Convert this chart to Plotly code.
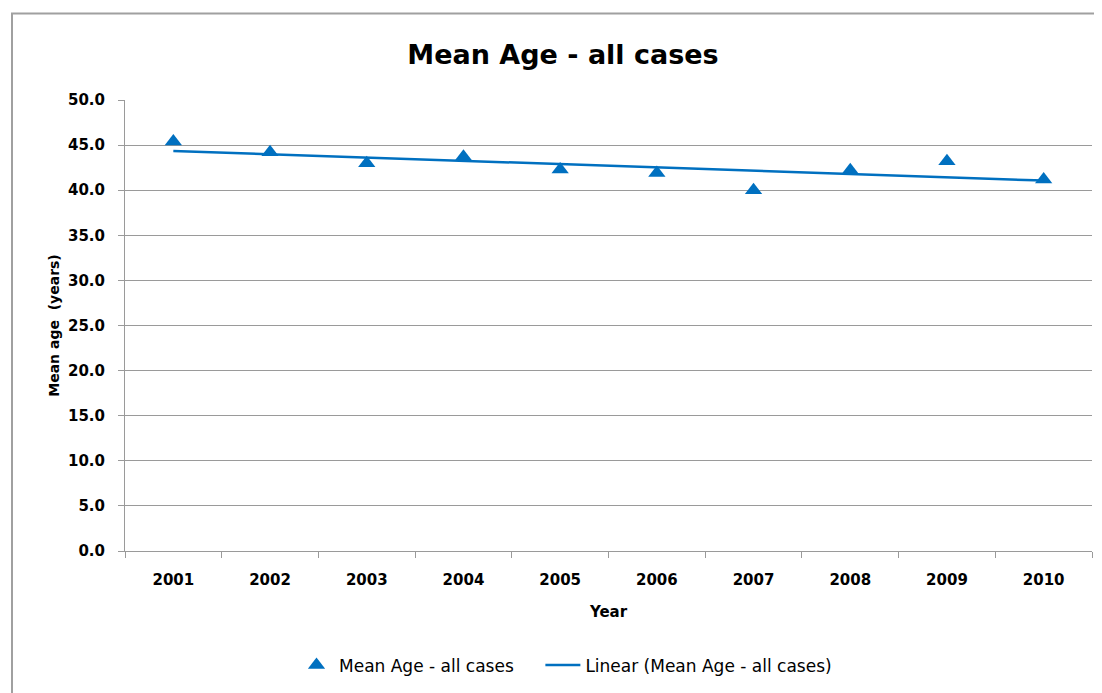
import numpy as np
import plotly.graph_objects as go

years = ["2001", "2002", "2003", "2004", "2005", "2006", "2007", "2008", "2009", "2010"]
mean_age = [45.4, 44.2, 43.0, 43.7, 42.3, 41.9, 40.0, 42.2, 43.2, 41.2]
y_ticks = [0, 5, 10, 15, 20, 25, 30, 35, 40, 45, 50]
y_tick_labels = ["%.1f" % v for v in y_ticks]

idx = np.arange(1, len(years) + 1)
slope, intercept = np.polyfit(idx, mean_age, 1)
trend = list(intercept + slope * idx)

BLUE = "#0070C0"
GRID = "#9a9a9a"
FONT = "DejaVu Sans"
PAD = "\u00a0" * 4

fig = go.Figure()
fig.add_trace(go.Scatter(
    x=years, y=mean_age, mode="markers", name="Mean Age - all cases" + PAD,
    marker=dict(symbol="triangle-up", size=15, color=BLUE),
))
fig.add_trace(go.Scatter(
    x=years, y=trend, mode="lines", name="Linear (Mean Age - all cases)",
    line=dict(color=BLUE, width=2.5),
))

OFF = 8  # page body margin
W, H = 1102 - OFF, 693 - OFF
L, T = 125 - OFF, 100 - OFF
pw, ph = 967, 453
R = W - L - pw
B = H - T - ph

def px_x(p):
    return (p - OFF - L) / pw

def px_y(p):
    return (T + ph - (p - OFF)) / ph

fig.add_shape(type="rect", xref="paper", yref="paper",
              x0=px_x(12), x1=px_x(1102 + 10), y0=px_y(693 + 10), y1=px_y(13),
              line=dict(color="#a0a0a0", width=2), fillcolor="rgba(0,0,0,0)", layer="below")

fig.update_layout(
    width=W, height=H,
    margin=dict(l=L, r=R, t=T, b=B),
    paper_bgcolor="white", plot_bgcolor="white",
    font=dict(family=FONT, color="black"),
    title=dict(text="<b>Mean Age - all cases</b>", x=(563 - OFF) / W, xanchor="center",
               y=1 - (55 - OFF) / H, yanchor="middle", font=dict(size=27, family=FONT, color="black")),
    xaxis=dict(
        type="category", range=[-0.5, 9.5],
        showgrid=False, showline=True, linecolor=GRID, linewidth=1,
        ticks="outside", ticklen=6, tickcolor=GRID, tickson="boundaries",
        tickfont=dict(size=15, family=FONT, color="black"),
        title=dict(text="<b>Year</b>", font=dict(size=15, family=FONT), standoff=18),
        ticklabelstandoff=15,
    ),
    yaxis=dict(
        range=[0, 50], tickvals=y_ticks, ticktext=["<b>%s</b>" % t for t in y_tick_labels],
        showgrid=True, gridcolor=GRID, gridwidth=1,
        showline=True, linecolor=GRID, linewidth=1,
        ticks="outside", ticklen=6, tickcolor=GRID,
        tickfont=dict(size=15, family=FONT, color="black"),
        title=dict(text="<b>Mean age  (years)</b>", font=dict(size=14, family=FONT), standoff=5),
        ticklabelstandoff=10,
        zeroline=False,
    ),
    legend=dict(orientation="h", x=px_x(294), xanchor="left",
                y=px_y(668), yanchor="middle",
                font=dict(size=17, family=FONT, color="black"), itemwidth=35),
    showlegend=True,
)
fig.update_xaxes(ticktext=["<b>%s</b>" % y for y in years], tickvals=years)

fig.write_html("out.html")
